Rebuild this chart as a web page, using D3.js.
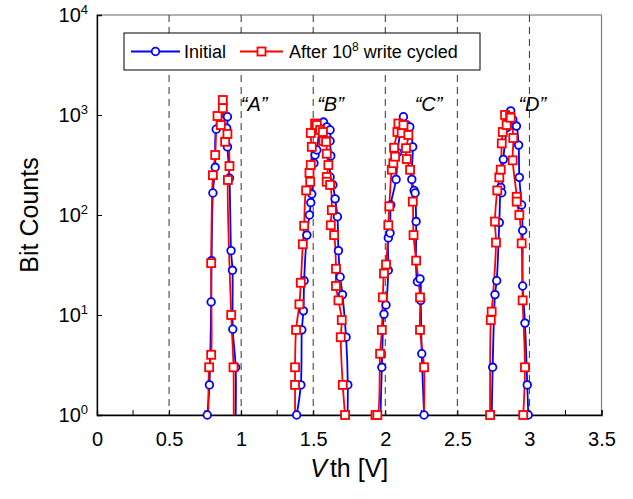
<!DOCTYPE html>
<html>
<head>
<meta charset="utf-8">
<script src="https://cdn.jsdelivr.net/npm/d3@7"></script>
<style>
  body { margin: 0; background: #fff; }
  svg { font-family: Arial, "Liberation Sans", sans-serif; }
</style>
</head>
<body>
<div id="grafico"></div>
<script>
// Vth [V], bit count (0 = empty bin, line drops below the axis)
var initA = [[0.765,1],[0.780,2],[0.792,13.5],[0.795,35],[0.804,166],[0.820,300],[0.827,720],[0.860,880],[0.905,960],[0.900,740],[0.905,480],[0.919,234],[0.930,44],[0.940,28],[0.942,7.2],[0.962,3],[0.958,0]];
var cycA  = [[0.775,0],[0.778,3],[0.792,4],[0.792,33],[0.804,250],[0.820,398],[0.836,977],[0.859,794],[0.873,1170],[0.873,1413],[0.889,540],[0.905,646],[0.919,309],[0.908,224],[0.931,10],[0.947,3],[0.947,0]];

var initB = [[1.385,1],[1.414,2],[1.421,7.1],[1.432,11],[1.437,22],[1.456,63],[1.474,100],[1.483,133],[1.490,162],[1.505,330],[1.513,398],[1.525,447],[1.545,700],[1.571,850],[1.594,760],[1.617,708],[1.617,550],[1.622,390],[1.617,240],[1.636,200],[1.652,145],[1.668,96],[1.675,44],[1.687,24],[1.703,16],[1.728,6],[1.740,2],[1.733,0]];
var cycB  = [[1.374,0],[1.374,2],[1.374,3],[1.381,7.1],[1.404,12.8],[1.414,21],[1.428,51],[1.437,78],[1.451,176],[1.479,215],[1.474,264],[1.483,316],[1.490,480],[1.483,661],[1.513,823],[1.525,794],[1.548,708],[1.567,676],[1.571,550],[1.589,540],[1.594,410],[1.605,316],[1.594,240],[1.594,215],[1.617,200],[1.629,112],[1.622,79],[1.645,63],[1.658,29],[1.658,19.5],[1.675,14],[1.698,8.9],[1.691,6],[1.705,2],[1.721,1]];

var initC = [[1.962,0],[1.976,3],[1.991,10.2],[2.005,12.6],[2.021,28],[2.021,59],[2.033,66],[2.038,126],[2.075,227],[2.085,420],[2.103,661],[2.126,960],[2.149,794],[2.170,760],[2.190,480],[2.184,227],[2.200,176],[2.207,166],[2.214,86],[2.223,21.5],[2.241,23],[2.246,14],[2.253,4.1],[2.269,1]];
var cycC  = [[1.932,1],[1.945,1],[1.964,4.1],[1.976,7.1],[1.983,15],[1.991,26],[2.005,32],[2.021,79],[2.028,122],[2.045,284],[2.056,330],[2.068,383],[2.061,470],[2.084,676],[2.091,823],[2.114,661],[2.126,794],[2.160,631],[2.144,466],[2.149,363],[2.172,283],[2.191,136],[2.196,63],[2.214,35],[2.241,15],[2.241,7.1],[2.269,3],[2.262,0]];

var initD = [[2.735,0],[2.745,3],[2.761,16],[2.773,22],[2.791,84],[2.801,189],[2.808,167],[2.819,360],[2.845,750],[2.870,1100],[2.885,900],[2.910,775],[2.925,500],[2.930,238],[2.946,126],[2.953,70],[2.953,19.5],[2.969,8.3],[2.985,2],[2.992,1]];
var cycD  = [[2.727,1],[2.732,8.9],[2.738,10.8],[2.768,53],[2.761,86],[2.777,176],[2.791,238],[2.801,284],[2.808,520],[2.815,676],[2.831,1000],[2.842,794],[2.866,960],[2.870,940],[2.888,589],[2.884,352],[2.912,152],[2.912,136],[2.930,100],[2.946,52],[2.953,14],[2.969,3],[2.957,1]];

var xTicks = [0, 0.5, 1, 1.5, 2, 2.5, 3, 3.5];
var xMinor = [0.25, 0.75, 1.25, 1.75, 2.25, 2.75, 3.25];
var yTicks = [1, 10, 100, 1000, 10000];
var dashLines = [0.5, 1, 1.5, 2, 2.5, 3];
var stateLabels = [["A", 1.09], ["B", 1.62], ["C", 2.30], ["D", 3.02]];

var W = 633, H = 499,
    margin = {top: 15, right: 31.5, bottom: 84, left: 97},
    width = W - margin.left - margin.right,
    height = H - margin.top - margin.bottom;

var svg = d3.select("#grafico").append("svg").attr("width", W).attr("height", H);
var g = svg.append("g").attr("transform", "translate(" + margin.left + "," + margin.top + ")");

var x = d3.scaleLinear().domain([0, 3.5]).range([0, width]);
var y = d3.scaleLog().domain([1, 1e4]).range([height, 0]);

g.append("clipPath").attr("id", "clip")
    .append("rect").attr("width", width).attr("height", height);

// frame (top/right gray)
g.append("rect").attr("width", width).attr("height", height)
    .attr("fill", "none").attr("stroke", "#808080").attr("stroke-width", 1.2);

// dashed separators
g.selectAll(".dash").data(dashLines).enter().append("line")
    .attr("x1", function(d) { return x(d); }).attr("x2", function(d) { return x(d); })
    .attr("y1", 0).attr("y2", height)
    .attr("stroke", "#333").attr("stroke-width", 1).attr("stroke-dasharray", "7,5");

// axes
var xAxis = g.append("g").attr("transform", "translate(0," + height + ")")
    .call(d3.axisBottom(x).tickValues(xTicks).tickSize(-5).tickPadding(17)
        .tickFormat(function(d) { return d; }));
xAxis.append("g").selectAll("line").data(xMinor).enter().append("line")
    .attr("x1", function(d) { return x(d); }).attr("x2", function(d) { return x(d); })
    .attr("y1", 0).attr("y2", -5).attr("stroke", "#000");
xAxis.selectAll("text").attr("font-size", 20).attr("fill", "#000").attr("font-family", "Arial, Liberation Sans");
xAxis.select(".domain").attr("stroke", "#000").attr("stroke-width", 1.3);

var yAxis = g.append("g")
    .call(d3.axisLeft(y).tickValues(yTicks).tickSize(-5).tickFormat(""));
yAxis.select(".domain").attr("stroke", "#000").attr("stroke-width", 1.3);

var yl = g.append("g").selectAll("text").data(yTicks).enter().append("text")
    .attr("x", -9).attr("y", function(d) { return y(d) + 7; })
    .attr("text-anchor", "end").attr("font-size", 20).attr("fill", "#000");
yl.append("tspan").text("10");
yl.append("tspan").attr("font-size", 13).attr("dy", -8)
    .text(function(d) { return Math.round(Math.log10(d)); });

// series
var line = d3.line()
    .x(function(d) { return x(d[0]); })
    .y(function(d) { return d[1] > 0 ? y(d[1]) : y(0.5); })
    .curve(d3.curveCatmullRom.alpha(0.5));

var plot = g.append("g").attr("clip-path", "url(#clip)");

function drawSeries(list, color, shape) {
    list.forEach(function(data) {
        plot.append("path").datum(data)
            .attr("d", line).attr("fill", "none")
            .attr("stroke", color).attr("stroke-width", 1.8);
    });
    list.forEach(function(data) {
        var pts = data.filter(function(d) { return d[1] >= 1; });
        if (shape === "circle") {
            g.append("g").selectAll("circle").data(pts).enter().append("circle")
                .attr("cx", function(d) { return x(d[0]); })
                .attr("cy", function(d) { return y(d[1]); })
                .attr("r", 3.8).attr("fill", "#fff")
                .attr("stroke", color).attr("stroke-width", 1.8);
        } else {
            g.append("g").selectAll("rect").data(pts).enter().append("rect")
                .attr("x", function(d) { return x(d[0]) - 4; })
                .attr("y", function(d) { return y(d[1]) - 4; })
                .attr("width", 8).attr("height", 8).attr("fill", "#fff")
                .attr("stroke", color).attr("stroke-width", 1.8);
        }
    });
}
drawSeries([initA, initB, initC, initD], "#0000ff", "circle");
drawSeries([cycA, cycB, cycC, cycD], "#ff0000", "square");

// state labels
g.append("g").selectAll("text").data(stateLabels).enter().append("text")
    .attr("x", function(d) { return x(d[1]); })
    .attr("y", y(1000) - 4)
    .attr("text-anchor", "middle").attr("font-size", 20).attr("font-style", "italic")
    .text(function(d) { return "\u201C" + d[0] + "\u201D"; });

// legend
var lg = svg.append("g");
lg.append("rect").attr("x", 124).attr("y", 33).attr("width", 356).attr("height", 37)
    .attr("fill", "#fff").attr("stroke", "#000").attr("stroke-width", 1);
var ly = 51.5;
lg.append("line").attr("x1", 131).attr("x2", 180).attr("y1", ly).attr("y2", ly)
    .attr("stroke", "#0000ff").attr("stroke-width", 2);
lg.append("circle").attr("cx", 155.5).attr("cy", ly).attr("r", 3.8)
    .attr("fill", "#fff").attr("stroke", "#0000ff").attr("stroke-width", 1.8);
lg.append("text").attr("x", 184).attr("y", ly + 6.5).attr("font-size", 18).text("Initial");
lg.append("line").attr("x1", 240).attr("x2", 283).attr("y1", ly).attr("y2", ly)
    .attr("stroke", "#ff0000").attr("stroke-width", 2);
lg.append("rect").attr("x", 257.5).attr("y", ly - 4).attr("width", 8).attr("height", 8)
    .attr("fill", "#fff").attr("stroke", "#ff0000").attr("stroke-width", 1.8);
var lt = lg.append("text").attr("x", 289).attr("y", ly + 6.5).attr("font-size", 18);
lt.append("tspan").text("After 10");
lt.append("tspan").attr("font-size", 12).attr("dy", -7).text("8");
lt.append("tspan").attr("dy", 7).text(" write cycled");

// axis titles
var xt = svg.append("text").attr("x", margin.left + width / 2).attr("y", 477)
    .attr("text-anchor", "middle").attr("font-size", 25);
xt.append("tspan").attr("font-style", "italic").text("V");
xt.append("tspan").attr("dx", 3).text("th [V]");

svg.append("text")
    .attr("transform", "translate(38," + (margin.top + height / 2) + ") rotate(-90)")
    .attr("text-anchor", "middle").attr("font-size", 25).text("Bit Counts");
</script>
</body>
</html>
